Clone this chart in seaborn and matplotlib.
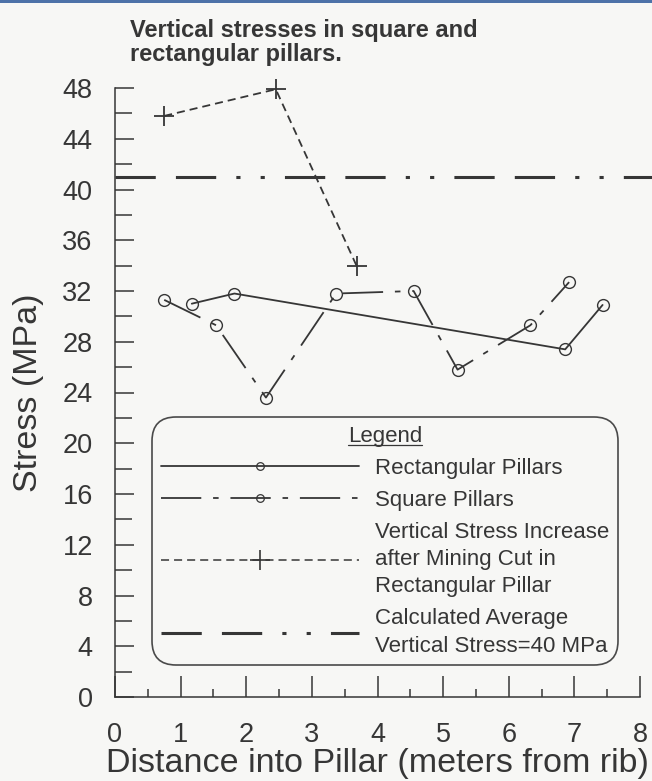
import numpy as np
import pandas as pd
import matplotlib
matplotlib.use("Agg")
import matplotlib.pyplot as plt
import seaborn as sns
from matplotlib.lines import Line2D
from matplotlib.patches import Rectangle
from matplotlib.ticker import MultipleLocator
from matplotlib.transforms import IdentityTransform

# values
rect_x = [1.17, 1.82, 6.86, 7.43]
rect_y = [31.0, 31.8, 27.4, 30.9]

square_x = [0.75, 1.54, 2.30, 3.37, 4.55, 5.22, 6.33, 6.92]
square_y = [31.3, 29.3, 23.6, 31.8, 32.0, 25.8, 29.3, 32.7]

cut_x = [0.75, 2.45, 3.68]
cut_y = [45.8, 47.9, 34.0]

avg_x = [0.0, 8.2]
avg_y = [41.0, 41.0]

x_ticks = [0, 1, 2, 3, 4, 5, 6, 7, 8]
y_ticks = list(range(0, 49, 4))

legend_labels = [
    "Rectangular Pillars",
    "Square Pillars",
    "Vertical Stress Increase\nafter Mining Cut in\nRectangular Pillar",
    "Calculated Average\nVertical Stress=40 MPa",
]

BG = "#f7f7f5"
INK = "#363636"

sns.set_theme(style="ticks")
plt.rcParams["font.family"] = ["Liberation Sans", "DejaVu Sans"]
plt.rcParams["lines.scale_dashes"] = False

# dash patterns (points)
SOLID = "-"
SQUARE_LS = (0, (29, 8.5, 4, 8.5))
CUT_LS = (0, (5.8, 3.6))
AVG_LS = (0, (29, 14.5, 29, 14.5, 3, 14.5, 3, 14.5))

fig = plt.figure(figsize=(6.52, 7.81), dpi=100, facecolor=BG)
ax = fig.add_axes([115 / 652, 84 / 781, 525 / 652, 609 / 781])
ax.set_facecolor(BG)

# thin blue strip at the top of the scanned page
fig.add_artist(Rectangle((0, 1 - 3 / 781), 1, 3 / 781, transform=fig.transFigure,
                         color="#4d72a8", lw=0))

sns.lineplot(x=avg_x, y=avg_y, ax=ax, color=INK, linewidth=2.2,
             linestyle=AVG_LS, clip_on=False, sort=False, errorbar=None)

sns.lineplot(x=rect_x, y=rect_y, ax=ax, color=INK, linewidth=1.3,
             linestyle=SOLID, marker="o", markersize=8.5,
             markerfacecolor="none", markeredgecolor=INK, markeredgewidth=1.0,
             sort=False, errorbar=None)

sns.lineplot(x=square_x, y=square_y, ax=ax, color=INK, linewidth=1.3,
             linestyle=SQUARE_LS, marker="o", markersize=8.5,
             markerfacecolor="none", markeredgecolor=INK, markeredgewidth=1.0,
             sort=False, errorbar=None)

sns.lineplot(x=cut_x, y=cut_y, ax=ax, color=INK, linewidth=1.3,
             linestyle=CUT_LS, marker="+", markersize=14,
             markeredgecolor=INK, markeredgewidth=1.3,
             sort=False, errorbar=None, clip_on=False)

ax.set_xlim(0, 8)
ax.set_ylim(0, 48)
ax.set_xticks(x_ticks)
ax.set_yticks(y_ticks)
ax.xaxis.set_minor_locator(MultipleLocator(0.5))
ax.yaxis.set_minor_locator(MultipleLocator(2))

for side in ["top", "right"]:
    ax.spines[side].set_visible(False)
for side in ["left", "bottom"]:
    ax.spines[side].set_color(INK)
    ax.spines[side].set_linewidth(1.1)

ax.tick_params(axis="y", which="major", direction="in", length=14, width=1.1,
               color=INK, labelcolor=INK, labelsize=19.5, pad=16)
ax.tick_params(axis="y", which="minor", direction="in", length=12, width=1.1, color=INK)
ax.tick_params(axis="x", which="major", direction="in", length=15, width=1.1,
               color=INK, labelcolor=INK, labelsize=19.5, pad=18)
ax.tick_params(axis="x", which="minor", direction="in", length=6, width=1.1, color=INK)

ax.set_xlabel("Distance into Pillar (meters from rib)", fontsize=24.5, color=INK, labelpad=0)
ax.set_ylabel("Stress (MPa)", fontsize=24.5, color=INK, labelpad=13)

fig.text(130 / 652, 1 - 61 / 781, "Vertical stresses in square and\nrectangular pillars.",
         fontsize=17, fontweight="bold", color=INK, ha="left", va="baseline",
         linespacing=1.05)

# legend proxies
handles = [
    Line2D([], [], color=INK, lw=1.3, ls=SOLID, marker="o", ms=5.5,
           mfc="none", mec=INK, mew=0.9),
    Line2D([], [], color=INK, lw=1.3, ls=SQUARE_LS, marker="o", ms=5.5,
           mfc="none", mec=INK, mew=0.9),
    Line2D([], [], color=INK, lw=1.1, ls=CUT_LS, marker="+", ms=14,
           mec=INK, mew=1.2),
    Line2D([], [], color=INK, lw=2.2, ls=AVG_LS),
]

leg = ax.legend(handles, legend_labels, title="Legend", loc="upper left",
                bbox_to_anchor=((152 - 115) / 525, (697 - 417) / 609),
                borderaxespad=0, borderpad=0.4, fontsize=16, title_fontsize=16,
                handlelength=8.9, handletextpad=0.75, labelspacing=0.5,
                frameon=True, fancybox=True, facecolor=BG, edgecolor="#4a4a4a",
                framealpha=1)
leg.get_frame().set_linewidth(1.2)
leg.get_frame().set_boxstyle("round", pad=0, rounding_size=1.1)
leg.get_title().set_color(INK)
for t in leg.get_texts():
    t.set_color(INK)
    t.set_linespacing(1.38)

# underline the legend title
fig.canvas.draw()
tb = leg.get_title().get_window_extent()
fig.add_artist(Line2D([tb.x0, tb.x1], [tb.y0 + 1.5, tb.y0 + 1.5],
                      transform=IdentityTransform(), color=INK, lw=0.9))

fig.savefig("out.png", dpi=100, facecolor=BG)
plt.close(fig)
